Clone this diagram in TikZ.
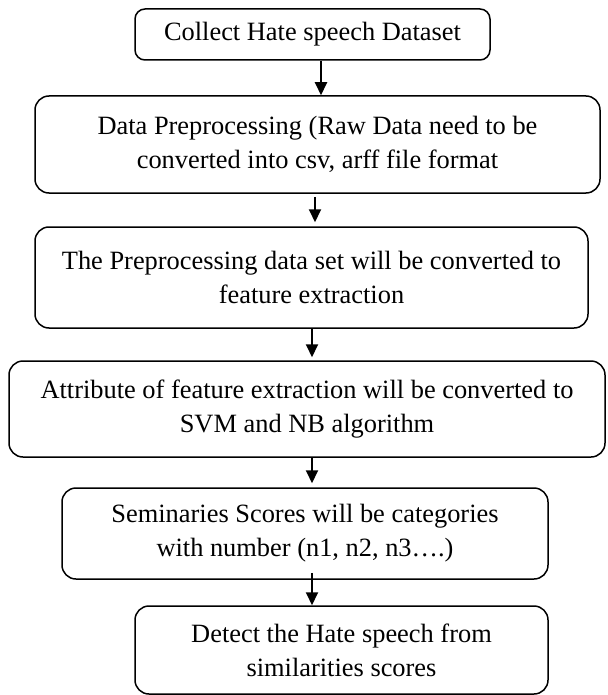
\documentclass[tikz,border=0pt]{standalone}
\usepackage{fontspec}
\setmainfont{Liberation Serif}
\usetikzlibrary{arrows.meta}
\begin{document}
\begin{tikzpicture}[x=1pt,y=-1pt,
  stepbox/.style={draw, line width=1.5pt, rounded corners=14pt, align=center,
    inner sep=0pt, font=\fontsize{26.4}{34}\selectfont},
  flow/.style={-{Triangle[length=13pt,width=12pt]}, line width=2pt}]
  % page frame
  \fill[white] (0,0) rectangle (607,695);
  \useasboundingbox (0,0) rectangle (607,695);

  % process steps
  \node[stepbox, rounded corners=10pt, minimum width=355pt, minimum height=51pt]
    (b1) at (312.5,34.5) {Collect Hate speech Dataset};
  \node[stepbox, minimum width=565pt, minimum height=97pt]
    (b2) at (317.5,144.5) {Data Preprocessing (Raw Data need to be\\converted into csv, arff file format};
  \node[stepbox, minimum width=553pt, minimum height=101pt]
    (b3) at (311.5,277.5) {The Preprocessing data set will be converted to\\feature extraction};
  \node[stepbox, minimum width=596pt, minimum height=96pt]
    (b4) at (307,409) {Attribute of feature extraction will be converted to\\SVM and NB algorithm};
  \node[stepbox, minimum width=486pt, minimum height=91pt]
    (b5) at (305,533.5) {Seminaries Scores will be categories\\with number (n1, n2, n3….)};
  \node[stepbox, minimum width=413pt, minimum height=88pt]
    (b6) at (341.5,650) {Detect the Hate speech from\\similarities scores};

  % arrow columns
  \coordinate (c1) at (321,0);
  \coordinate (c2) at (315,0);
  \coordinate (c3) at (312,0);

  % connectors
  \draw[flow] (b1.south -| c1) -- (b2.north -| c1);
  \draw[flow, shorten <=3pt, shorten >=4pt] (b2.south -| c2) -- (b3.north -| c2);
  \draw[flow, shorten >=3pt] (b3.south -| c3) -- (b4.north -| c3);
  \draw[flow, shorten >=4pt] (b4.south -| c3) -- (b5.north -| c3);
  \draw[flow, shorten <=-7pt] (b5.south -| c3) -- (b6.north -| c3);
\end{tikzpicture}
\end{document}
